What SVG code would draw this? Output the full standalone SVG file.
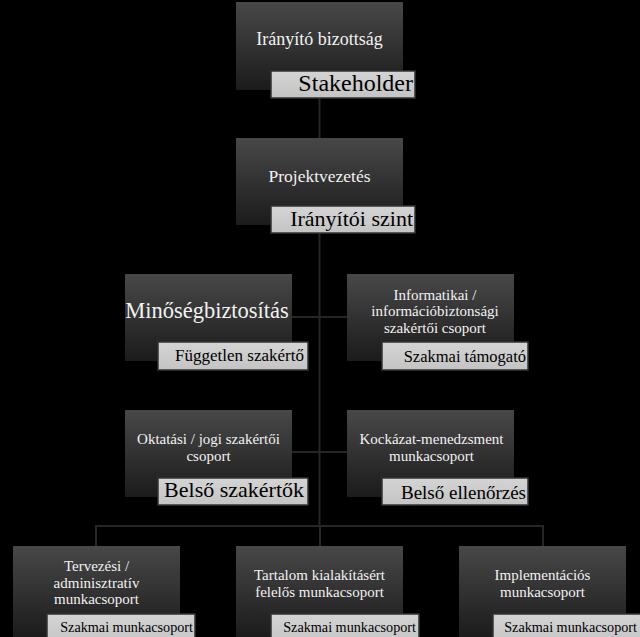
<svg xmlns="http://www.w3.org/2000/svg" width="640" height="637" viewBox="0 0 640 637">
<defs>
<linearGradient id="dk" x1="0" y1="0" x2="0" y2="1">
<stop offset="0" stop-color="#484848"/>
<stop offset="1" stop-color="#1b1b1b"/>
</linearGradient>
<linearGradient id="lt" x1="0" y1="0" x2="0" y2="1">
<stop offset="0" stop-color="#d4d4d4"/>
<stop offset="1" stop-color="#c4c4c4"/>
</linearGradient>
</defs>
<style>
.box{fill:url(#dk)}
.lab{fill:url(#lt);stroke:#333;stroke-width:1.5}
text{font-family:'Liberation Serif','DejaVu Serif',serif}
.t{fill:#f2f2f2;text-anchor:middle}
.m{fill:#f2f2f2;text-anchor:middle;font-size:15px}
.l{fill:#000;text-anchor:end}
.c{stroke:#262626;stroke-width:2;fill:none}
</style>
<rect width="640" height="637" fill="#000"/>
<g id="connectors">
<path class="c" d="M319.5 98V138M319.5 233V526M292 317H347M292 452H347M96 546V526H543V546M320 526V546"/>
</g>
<g id="n1">
<rect class="box" x="236" y="2" width="167" height="88"/>
<text class="t" x="319.5" y="45" font-size="18">Irányító bizottság</text>
<rect class="lab" x="271" y="71" width="144" height="27"/>
<text class="l" x="413" y="91" font-size="24">Stakeholder</text>
</g>
<g id="n2">
<rect class="box" x="236" y="138" width="167" height="87"/>
<text class="t" x="319.5" y="182" font-size="17.5">Projektvezetés</text>
<rect class="lab" x="271" y="206" width="144" height="27"/>
<text class="l" x="413" y="226" font-size="22">Irányítói szint</text>
</g>
<g id="n3">
<rect class="box" x="125" y="274" width="167" height="87"/>
<text class="t" x="207" y="318" font-size="22.5">Minőségbiztosítás</text>
<rect class="lab" x="158" y="342" width="150" height="28"/>
<text class="l" x="304" y="361" font-size="17">Független szakértő</text>
</g>
<g id="n4">
<rect class="box" x="347" y="274" width="167" height="87"/>
<text class="m" x="435" y="299.5">Informatikai /</text>
<text class="m" x="435" y="316.2">információbiztonsági</text>
<text class="m" x="435" y="333">szakértői csoport</text>
<rect class="lab" x="382" y="342" width="146" height="28"/>
<text class="l" x="526" y="362" font-size="16.5">Szakmai támogató</text>
</g>
<g id="n5">
<rect class="box" x="125" y="410" width="167" height="87"/>
<text class="m" x="208.5" y="444">Oktatási / jogi szakértői</text>
<text class="m" x="208.5" y="460.7">csoport</text>
<rect class="lab" x="158" y="478" width="150" height="27"/>
<text class="l" x="304" y="497" font-size="22">Belső szakértők</text>
</g>
<g id="n6">
<rect class="box" x="347" y="410" width="167" height="87"/>
<text class="m" x="431.5" y="444">Kockázat-menedzsment</text>
<text class="m" x="431.5" y="460.7">munkacsoport</text>
<rect class="lab" x="382" y="478" width="146" height="27"/>
<text class="l" x="526" y="499" font-size="19">Belső ellenőrzés</text>
</g>
<g id="n7">
<rect class="box" x="13" y="546" width="167" height="91"/>
<text class="m" x="96.5" y="571">Tervezési /</text>
<text class="m" x="96.5" y="587.7">adminisztratív</text>
<text class="m" x="96.5" y="604.4">munkacsoport</text>
<rect class="lab" x="47" y="614" width="148" height="30"/>
<text class="l" x="193" y="632" font-size="14.2">Szakmai munkacsoport</text>
</g>
<g id="n8">
<rect class="box" x="236" y="546" width="167" height="91"/>
<text class="m" x="319.5" y="580">Tartalom kialakításért</text>
<text class="m" x="319.5" y="596.7">felelős munkacsoport</text>
<rect class="lab" x="271" y="614" width="148" height="30"/>
<text class="l" x="416" y="632" font-size="14.2">Szakmai munkacsoport</text>
</g>
<g id="n9">
<rect class="box" x="459" y="546" width="167" height="91"/>
<text class="m" x="542.5" y="580">Implementációs</text>
<text class="m" x="542.5" y="596.7">munkacsoport</text>
<rect class="lab" x="493" y="614" width="148" height="30"/>
<text class="l" x="637" y="632" font-size="14.2">Szakmai munkacsoport</text>
</g>
</svg>
